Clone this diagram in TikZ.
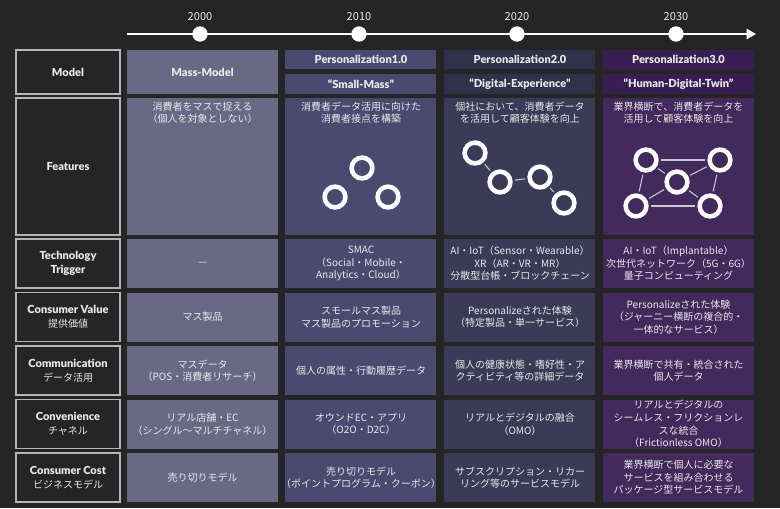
\documentclass[tikz,border=0pt]{standalone}
\usepackage{fontspec}
\setmainfont{Noto Sans CJK JP}
\newfontfamily\latofont[BoldFont={Lato Black}]{Lato}
\usepackage{tikz}
\usetikzlibrary{positioning,arrows.meta}

\definecolor{bgdark}{HTML}{252525}
\definecolor{massc}{HTML}{6A6985}
\definecolor{pzonec}{HTML}{4A4A70}
\definecolor{pztwoc}{HTML}{3B3B58}
\definecolor{pztwohd}{HTML}{30304A}
\definecolor{pzthreec}{HTML}{44295D}
\definecolor{pzthreehd}{HTML}{3A1D53}
\definecolor{framegray}{HTML}{B4B4B4}
\definecolor{txtc}{HTML}{E8E8E8}
\definecolor{linkc}{HTML}{C8C8D4}

\newcommand\jpline{\normalfont\fontsize{7.5}{10}\selectfont}

\tikzset{
  head/.style={text=txtc, inner sep=1pt, align=center, font=\latofont\bfseries\fontsize{8.3}{10.5}\selectfont},
  lbl/.style={text=txtc, inner sep=1pt, align=center, font=\latofont\bfseries\fontsize{8.3}{10.5}\selectfont},
  body/.style={text=txtc, inner sep=1pt, align=center, font=\fontsize{7.5}{9.4}\selectfont},
  yeardot/.style={circle, fill=white, minimum size=11.5pt, inner sep=0pt},
  yearlbl/.style={text=txtc, inner sep=1pt, font=\fontsize{8.3}{10}\selectfont},
  ring/.style={circle, draw=white, line width=3.4pt, minimum size=15.6pt, inner sep=0pt},
  link/.style={linkc, line width=0.8pt, shorten <=1.7pt, shorten >=1.7pt}
}

\begin{document}
\begin{tikzpicture}[x=0.75pt,y=-0.75pt]
    \fill[bgdark] (0,0) rectangle (780,508);
    \useasboundingbox (0,0) rectangle (780,508);

    % Timeline
    \coordinate (tl start) at (127,34);
    \coordinate (tl end) at (756,34);
    \draw[white, line width=2.2pt, -{Triangle[length=7pt,width=7.5pt]}] (tl start) -- (tl end);
    \foreach \x/\yr in {200/2000, 359/2010, 517/2020, 676/2030} {
        \node[yeardot] (dot\yr) at (\x,34) {};
        \node[yearlbl, above=3pt of dot\yr] (year\yr) {\yr};
    }

    % Label column
    \foreach \ry/\rh in {50/44, 98/137, 239/49, 292.5/49, 346/49, 399.5/49, 453/49}
        \draw[framegray, fill=bgdark, line width=0.8pt] (16,\ry) rectangle ++(104,\rh);
    \node[lbl] (l model) at (68,72) {Model};
    \node[lbl] (l feat) at (68,166.5) {Features};
    \node[lbl] (l tech) at (68,263.5) {Technology\\Trigger};
    \node[lbl] (l value) at (68,317) {Consumer Value\\\jpline 提供価値};
    \node[lbl] (l comm) at (68,370.5) {Communication\\\jpline データ活用};
    \node[lbl] (l conv) at (68,424) {Convenience\\\jpline チャネル};
    \node[lbl] (l cost) at (68,477.5) {Consumer Cost\\\jpline ビジネスモデル};

    % Cells
    \foreach \cx/\cc/\hc in {127/massc/massc, 285/pzonec/pzonec, 444/pztwoc/pztwohd, 603/pzthreec/pzthreehd} {
        \fill[\cc] (\cx,98) rectangle ++(151,137);
        \foreach \ry in {239, 292.5, 346, 399.5, 453}
            \fill[\cc] (\cx,\ry) rectangle ++(151,49);
    }
    \fill[massc] (127,50) rectangle ++(151,44);
    \foreach \cx/\hc in {285/pzonec, 444/pztwohd, 603/pzthreehd} {
        \fill[\hc] (\cx,50) rectangle ++(151,19);
        \fill[\hc] (\cx,74) rectangle ++(151,20);
    }

    % Model row
    \node[head] (mass) at (202.5,72) {Mass-Model};
    \node[head] (pz one) at (361,59.5) {Personalization1.0};
    \node[head] (pz one q) at (361,84) {“Small-Mass”};
    \node[head] (pz two) at (520,59.5) {Personalization2.0};
    \node[head] (pz two q) at (520,84) {“Digital-Experience”};
    \node[head] (pz three) at (678.5,59.5) {Personalization3.0};
    \node[head] (pz three q) at (678.5,84) {“Human-Digital-Twin”};

    % Features row
    \node[body, anchor=north] (feat1) at (202.5,100) {消費者をマスで捉える\\（個人を対象としない）};
    \node[body, anchor=north] (feat2) at (361,100) {消費者データ活用に向けた\\消費者接点を構築};
    \node[body, anchor=north] (feat3) at (520,100) {個社において、消費者データ\\を活用して顧客体験を向上};
    \node[body, anchor=north] (feat4) at (678.5,100) {業界横断で、消費者データを\\活用して顧客体験を向上};

    % Rings 1.0
    \node[ring] (ra1) at (362,168) {};
    \node[ring] (ra2) at (335,197) {};
    \node[ring] (ra3) at (388,197) {};
    % Rings 2.0
    \node[ring] (rb1) at (475,153) {};
    \node[ring] (rb2) at (500,182) {};
    \node[ring] (rb3) at (540,177) {};
    \node[ring] (rb4) at (564,203) {};
    \draw[link] (rb1) -- (rb2);
    \draw[link] (rb2) -- (rb3);
    \draw[link] (rb3) -- (rb4);
    % Rings 3.0
    \node[ring] (rc1) at (646,160) {};
    \node[ring] (rc2) at (720,160) {};
    \node[ring] (rc3) at (677,182) {};
    \node[ring] (rc4) at (636,206) {};
    \node[ring] (rc5) at (710,206) {};
    \foreach \a/\b in {rc1/rc2, rc1/rc3, rc3/rc2, rc1/rc4, rc2/rc5, rc4/rc5, rc4/rc3, rc3/rc5}
        \draw[link] (\a) -- (\b);

    % Technology Trigger
    \node[body] (tech1) at (202.5,263.5) {—};
    \node[body] (tech2) at (361,263.5) {SMAC\\（Social・Mobile・\\Analytics・Cloud）};
    \node[body] (tech3) at (520,263.5) {AI・IoT（Sensor・Wearable）\\XR（AR・VR・MR）\\分散型台帳・ブロックチェーン};
    \node[body] (tech4) at (678.5,263.5) {AI・IoT（Implantable）\\次世代ネットワーク（5G・6G）\\量子コンピューティング};

    % Consumer Value
    \node[body] (value1) at (202.5,317) {マス製品};
    \node[body] (value2) at (361,317) {スモールマス製品\\マス製品のプロモーション};
    \node[body] (value3) at (520,317) {Personalizeされた体験\\（特定製品・単一サービス）};
    \node[body] (value4) at (678.5,317) {Personalizeされた体験\\（ジャーニー横断の複合的・\\一体的なサービス）};

    % Communication
    \node[body] (comm1) at (202.5,370.5) {マスデータ\\（POS・消費者リサーチ）};
    \node[body] (comm2) at (361,370.5) {個人の属性・行動履歴データ};
    \node[body] (comm3) at (520,370.5) {個人の健康状態・嗜好性・ア\\クティビティ等の詳細データ};
    \node[body] (comm4) at (678.5,370.5) {業界横断で共有・統合された\\個人データ};

    % Convenience
    \node[body] (conv1) at (202.5,424) {リアル店舗・EC\\（シングル～マルチチャネル）};
    \node[body] (conv2) at (361,424) {オウンドEC・アプリ\\（O2O・D2C）};
    \node[body] (conv3) at (520,424) {リアルとデジタルの融合\\（OMO）};
    \node[body] (conv4) at (678.5,424) {リアルとデジタルの\\シームレス・フリクションレ\\スな統合\\（Frictionless OMO）};

    % Consumer Cost
    \node[body] (cost1) at (202.5,477.5) {売り切りモデル};
    \node[body] (cost2) at (361,477.5) {売り切りモデル\\（ポイントプログラム・クーポン）};
    \node[body] (cost3) at (520,477.5) {サブスクリプション・リカー\\リング等のサービスモデル};
    \node[body] (cost4) at (678.5,477.5) {業界横断で個人に必要な\\サービスを組み合わせる\\パッケージ型サービスモデル};
\end{tikzpicture}
\end{document}
